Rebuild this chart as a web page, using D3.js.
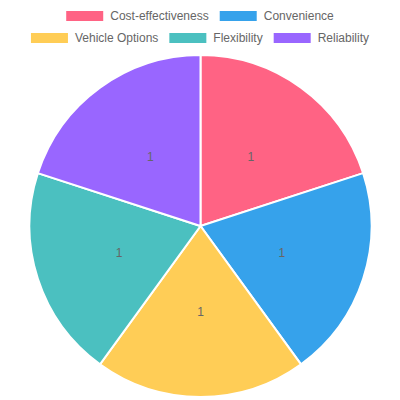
<!DOCTYPE html>
<html>
<head>
<meta charset="utf-8">
<script src="https://cdn.jsdelivr.net/npm/d3@7"></script>
<style>
  body { margin: 0; background: #fff; }
  text { font-family: "Liberation Sans", Arial, sans-serif; }
</style>
</head>
<body>
<svg width="400" height="400"></svg>
<script>
// chart data
var categories = ["Cost-effectiveness", "Convenience", "Vehicle Options", "Flexibility", "Reliability"];
var values = [1, 1, 1, 1, 1];
var colors = ["rgb(255,99,132)", "rgb(54,162,235)", "rgb(255,205,86)", "rgb(75,192,192)", "rgb(153,102,255)"];
var legendRows = [[0, 1], [2, 3, 4]];

var svg = d3.select("svg"),
    width = +svg.attr("width"),
    height = +svg.attr("height");

var cx = 200.5, cy = 226, radius = 171;

var pie = d3.pie().sort(null).value(d => d);
var arcs = pie(values);

var arc = d3.arc().innerRadius(0).outerRadius(radius);
var labelArc = d3.arc().innerRadius(radius / 2).outerRadius(radius / 2);

var g = svg.append("g").attr("transform", `translate(${cx},${cy})`);

g.selectAll("path")
    .data(arcs)
    .join("path")
    .attr("d", arc)
    .attr("fill", (d, i) => colors[i])
    .attr("stroke", "#fff")
    .attr("stroke-width", 2);

g.selectAll("text.val")
    .data(arcs)
    .join("text")
    .attr("class", "val")
    .attr("transform", d => `translate(${labelArc.centroid(d)})`)
    .attr("text-anchor", "middle")
    .attr("dy", "0.35em")
    .attr("font-size", "12px")
    .attr("fill", "#666")
    .text(d => d.data);

// legend, each row centred like chart.js does it
var boxW = 37, boxH = 10, gap = 7, pad = 11;
var rowY = [16, 38];

legendRows.forEach(function(row, r) {
    var lg = svg.append("g");
    var items = row.map(function(i) {
        var t = lg.append("text")
            .attr("font-size", "12px")
            .attr("fill", "#666")
            .attr("dy", "0.35em")
            .attr("y", rowY[r])
            .text(categories[i]);
        return {i: i, t: t, w: t.node().getComputedTextLength()};
    });
    var total = d3.sum(items, d => boxW + gap + d.w) + pad * (items.length - 1);
    var x = width / 2 - total / 2;
    items.forEach(function(d) {
        lg.append("rect")
            .attr("x", x)
            .attr("y", rowY[r] - boxH / 2)
            .attr("width", boxW)
            .attr("height", boxH)
            .attr("fill", colors[d.i]);
        d.t.attr("x", x + boxW + gap);
        x += boxW + gap + d.w + pad;
    });
});
</script>
</body>
</html>
